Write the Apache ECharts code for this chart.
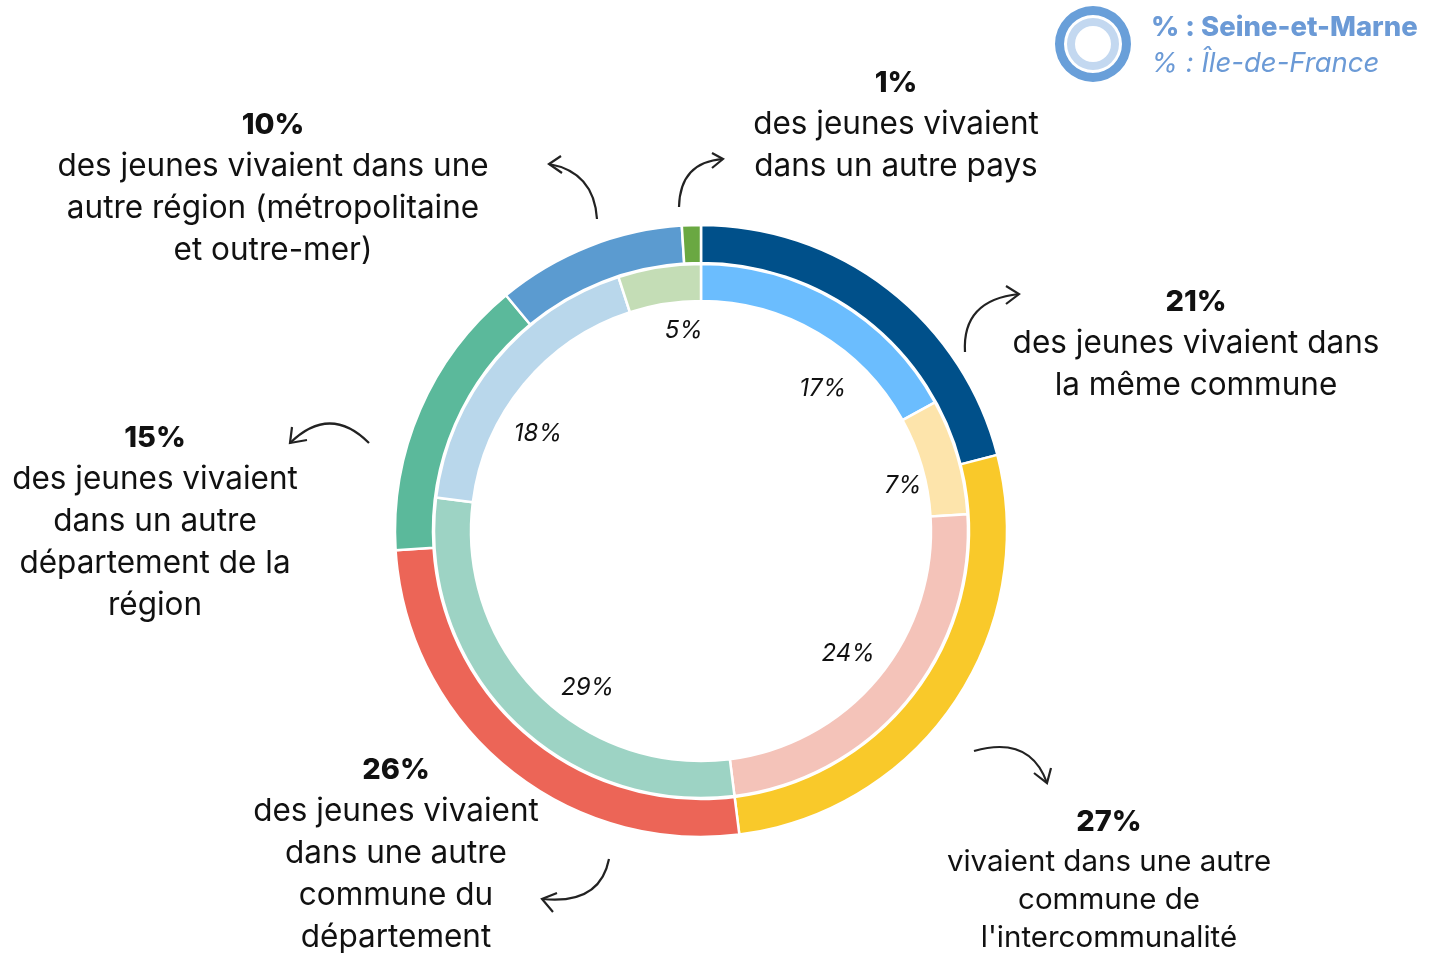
<!DOCTYPE html>
<html>
<head>
<meta charset="utf-8">
<script src="https://cdn.jsdelivr.net/npm/echarts@6/dist/echarts.min.js"></script>
<style>
  html, body { margin: 0; padding: 0; background: #fff; }
  #chart { width: 1438px; height: 956px; }
</style>
</head>
<body>
<div id="chart"></div>
<script>
// Seine-et-Marne (outer ring)
const outerNames = ['même commune', 'autre commune de l\'intercommunalité', 'autre commune du département',
  'autre département de la région', 'autre région', 'autre pays']
const outerValues = [21, 27, 26, 15, 10, 1]
const outerNotes = [
  'des jeunes vivaient dans\nla même commune',
  'vivaient dans une autre\ncommune de\nl\'intercommunalité',
  'des jeunes vivaient\ndans une autre\ncommune du\ndépartement',
  'des jeunes vivaient\ndans un autre\ndépartement de la\nrégion',
  'des jeunes vivaient dans une\nautre région (métropolitaine\net outre-mer)',
  'des jeunes vivaient\ndans un autre pays'
]
// Île-de-France (inner ring)
const innerValues = [17, 7, 24, 29, 18, 5]

const outerColors = ['#00508a', '#f9c92a', '#ec6557', '#5bb99b', '#5b9bd0', '#6aa842']
const innerColors = ['#6bbdfe', '#fde4ab', '#f4c3b9', '#9dd3c4', '#b9d7eb', '#c4ddb6']

const FONT = 'Inter, "Open Sans", sans-serif'
const CX = 701, CY = 531

// where each outer label sits: [center x, center y of first line]
const notePos = [[1196, 302], [1109, 822], [396, 770], [155, 438], [273, 125], [896, 83]]
// small nudges of the inner percentages, as placed in the original
const innerNudge = [[20, 30], [10, 11], [-7, -5], [28, 15], [-9, 30], [14, -3]]

// hand drawn arrows: start, control, tip, arm1, arm2
const arrows = [
  [[965, 352], [962, 300], [1019, 294], [1006, 286], [1006, 304]],
  [[974, 751], [1030, 735], [1047, 783], [1034, 773], [1051, 768]],
  [[609, 859], [600, 905], [542, 899], [557, 893], [553, 912]],
  [[369, 443], [330, 404], [290, 443], [292, 427], [307, 440]],
  [[597, 219], [594, 172], [549, 164], [561, 156], [562, 173]],
  [[679, 207], [680, 162], [723, 159], [712, 153], [712, 168]]
]

let chart = echarts.init(document.getElementById('chart'))

let graphics = []
arrows.forEach(a => {
  graphics.push({
    type: 'bezierCurve',
    shape: { x1: a[0][0], y1: a[0][1], cpx1: a[1][0], cpy1: a[1][1], x2: a[2][0], y2: a[2][1] },
    style: { stroke: '#222', lineWidth: 2.2, fill: null }
  })
  graphics.push({
    type: 'polyline',
    shape: { points: [a[3], a[2], a[4]] },
    style: { stroke: '#222', lineWidth: 2.2, fill: null }
  })
})
// legend icon + texts
graphics.push(
  { type: 'ring', shape: { cx: 1093, cy: 44, r: 38, r0: 29 }, style: { fill: '#699fd9' } },
  { type: 'ring', shape: { cx: 1093, cy: 44, r: 26, r0: 18 }, style: { fill: '#c3d8f0' } },
  { type: 'text', x: 1151, y: 28, style: { text: '% : Seine-et-Marne', font: '800 27.5px ' + FONT, fill: '#6b9ad6', verticalAlign: 'middle' } },
  { type: 'text', x: 1151, y: 64, style: { text: '% : Île-de-France', font: 'italic 400 27.5px ' + FONT, fill: '#6b9ad6', verticalAlign: 'middle' } }
)

let option = {
  backgroundColor: '#fff',
  animation: false,
  graphic: graphics,
  series: [
    {
      type: 'pie',
      center: [CX, CY],
      radius: [268, 306],
      startAngle: 90,
      silent: true,
      data: outerValues.map((v, i) => ({ name: outerNames[i], value: v, itemStyle: { color: outerColors[i] } })),
      itemStyle: { borderColor: '#fff', borderWidth: 2.5 },
      labelLine: { show: false },
      label: {
        show: true,
        position: 'outside',
        overflow: 'none',
        formatter: p => {
          let cls = p.dataIndex === 1 ? 's' : 't'
          return '{p|' + p.value + '%}\n{' + cls + '|' + outerNotes[p.dataIndex] + '}'
        },
        rich: {
          p: { fontFamily: FONT, fontWeight: 800, fontSize: 29, color: '#111', lineHeight: 42, align: 'center' },
          t: { fontFamily: FONT, fontWeight: 400, fontSize: 31.5, color: '#111', lineHeight: 42, align: 'center' },
          s: { fontFamily: FONT, fontWeight: 400, fontSize: 29.5, color: '#111', lineHeight: 38, align: 'center' }
        }
      },
      labelLayout: params => {
        let pos = notePos[params.dataIndex]
        return { x: pos[0], y: pos[1] - 21, align: 'center', verticalAlign: 'top' }
      }
    },
    {
      type: 'pie',
      center: [CX, CY],
      radius: [230, 267],
      startAngle: 90,
      silent: true,
      data: innerValues.map((v, i) => ({ value: v, itemStyle: { color: innerColors[i] } })),
      itemStyle: { borderColor: '#fff', borderWidth: 2.5 },
      label: { show: false },
      labelLine: { show: false }
    },
    {
      // invisible ring that carries the inner ring's percentages into the hole
      type: 'pie',
      center: [CX, CY],
      radius: [172, 222],
      startAngle: 90,
      silent: true,
      data: innerValues.map(v => ({ value: v })),
      itemStyle: { color: 'rgba(0,0,0,0)' },
      labelLine: { show: false },
      label: {
        show: true,
        position: 'inside',
        formatter: '{c}%',
        fontFamily: FONT,
        fontStyle: 'italic',
        fontSize: 24,
        color: '#111'
      },
      labelLayout: params => {
        let n = innerNudge[params.dataIndex]
        return { dx: n[0], dy: n[1] }
      }
    }
  ]
}

chart.setOption(option)
</script>
</body>
</html>
